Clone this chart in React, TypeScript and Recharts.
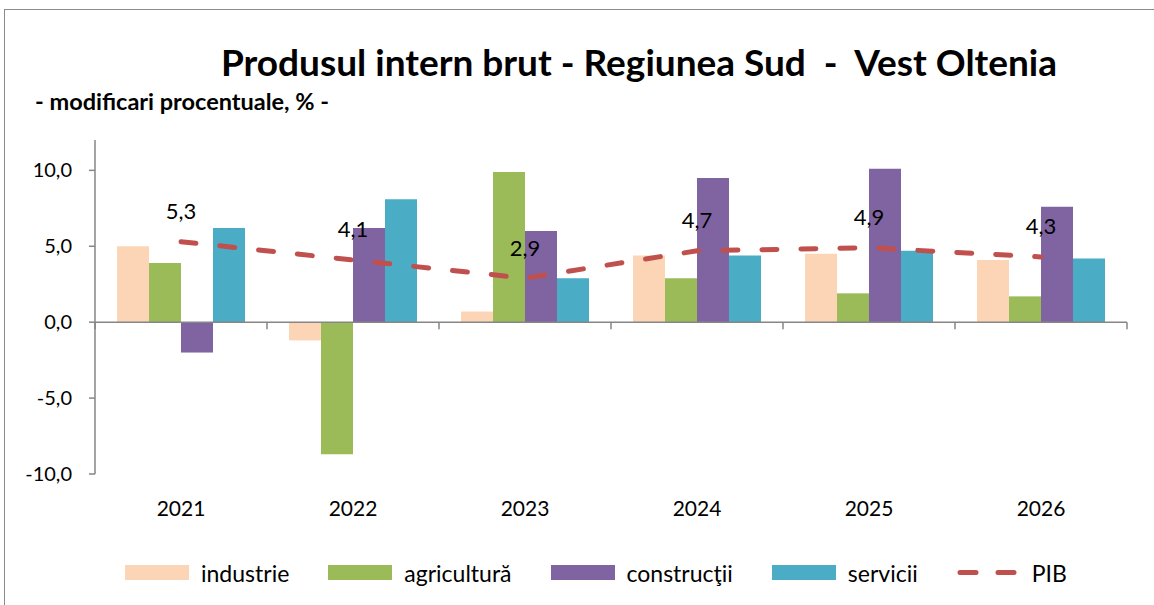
import {
    Bar,
    ComposedChart,
    LabelList,
    Line,
    ReferenceLine,
    XAxis,
    YAxis
} from "recharts";

const years = ["2021", "2022", "2023", "2024", "2025", "2026"];
const industrie = [5.0, -1.2, 0.7, 4.4, 4.5, 4.1];
const agricultura = [3.9, -8.7, 9.9, 2.9, 1.9, 1.7];
const constructii = [-2.0, 6.2, 6.0, 9.5, 10.1, 7.6];
const servicii = [6.2, 8.1, 2.9, 4.4, 4.7, 4.2];
const pib = [5.3, 4.1, 2.9, 4.7, 4.9, 4.3];
const yTicks = [-10, -5, 0, 5, 10];

const FONT = "Lato, 'Open Sans', sans-serif";
const AXIS_GRAY = "#868686";

const colors = {
    industrie: "#FBD5B5",
    agricultura: "#9BBB59",
    constructii: "#8064A2",
    servicii: "#4BACC6",
    pib: "#C0504D"
};

const data = years.map((year, i) => ({
    year,
    industrie: industrie[i],
    agricultura: agricultura[i],
    constructii: constructii[i],
    servicii: servicii[i],
    pib: pib[i]
}));

const formatValue = (v: number) => v.toFixed(1).replace(".", ",");

function ZeroAxis(props: any) {
    const { x1, x2, y1 } = props;
    const step = (x2 - x1) / years.length;
    const ticks = Array.from({ length: years.length + 1 }, (_, i) => x1 + i * step);
    return (
        <g>
            <line x1={x1} y1={y1} x2={x2} y2={y1} stroke={AXIS_GRAY} strokeWidth={1.5} />
            {ticks.map((tx) => (
                <line key={tx} x1={tx} y1={y1} x2={tx} y2={y1 + 7} stroke={AXIS_GRAY} strokeWidth={1.5} />
            ))}
        </g>
    );
}

function YearTick({ x, y, payload }: any) {
    return (
        <text x={x} y={y + 25} textAnchor="middle" dominantBaseline="central" fontSize={21} fill="#000" fontFamily={FONT}>
            {payload.value}
        </text>
    );
}

function PibLabel({ x, y, value }: any) {
    return (
        <text x={x} y={y - 31} textAnchor="middle" dominantBaseline="central" fontSize={22} fill="#000" fontFamily={FONT}>
            {formatValue(value)}
        </text>
    );
}

const legendItems = [
    { name: "industrie", color: colors.industrie },
    { name: "agricultură", color: colors.agricultura },
    { name: "construcţii", color: colors.constructii },
    { name: "servicii", color: colors.servicii }
];

function Legend() {
    return (
        <div
            style={{
                position: "absolute",
                left: 125,
                top: 559,
                display: "flex",
                alignItems: "center",
                fontFamily: FONT,
                fontSize: 23,
                color: "#000",
                height: 27
            }}
        >
            {legendItems.map((item) => (
                <div key={item.name} style={{ display: "flex", alignItems: "center", marginRight: 39 }}>
                    <span style={{ width: 64, height: 15, background: item.color, marginRight: 12 }} />
                    <span>{item.name}</span>
                </div>
            ))}
            <div style={{ display: "flex", alignItems: "center" }}>
                <svg width={64} height={15} style={{ marginRight: 11 }}>
                    <line
                        x1={3}
                        y1={7.5}
                        x2={62}
                        y2={7.5}
                        stroke={colors.pib}
                        strokeWidth={5}
                        strokeLinecap="round"
                        strokeDasharray="16 22"
                    />
                </svg>
                <span>PIB</span>
            </div>
        </div>
    );
}

export default function App() {
    return (
        <div style={{ position: "absolute", left: 0, top: 0, width: 1154, height: 605, background: "#fff", overflow: "hidden" }}>
            <div
                style={{
                    position: "absolute",
                    left: 4,
                    top: 9,
                    width: 1200,
                    height: 700,
                    borderLeft: "1.5px solid #8a8a8a",
                    borderTop: "1.5px solid #8a8a8a"
                }}
            />
            <svg width={1154} height={130} style={{ position: "absolute", left: 0, top: 0 }}>
                <text x={639} y={76} textAnchor="middle" fontSize={37} fontWeight={700} fill="#000" fontFamily={FONT}>
                    Produsul intern brut - Regiunea Sud{"\u00a0\u00a0"}-{"\u00a0\u00a0"}Vest Oltenia
                </text>
                <text x={35} y={110} fontSize={23.5} fontWeight={700} fill="#000" fontFamily={FONT}>
                    - modificari procentuale, % -
                </text>
            </svg>
            <div style={{ position: "absolute", left: 0, top: 0 }}>
                <ComposedChart
                    width={1154}
                    height={605}
                    data={data}
                    margin={{ top: 140, right: 27, bottom: 101, left: 0 }}
                    barCategoryGap={22}
                    barGap={0}
                >
                    <XAxis dataKey="year" axisLine={false} tickLine={false} height={30} tick={<YearTick />} interval={0} />
                    <YAxis
                        width={95}
                        domain={[-10, 12]}
                        ticks={yTicks}
                        allowDataOverflow
                        tickFormatter={formatValue}
                        axisLine={{ stroke: AXIS_GRAY, strokeWidth: 1.5 }}
                        tickLine={{ stroke: AXIS_GRAY, strokeWidth: 1.5 }}
                        tickSize={6}
                        tickMargin={17}
                        tick={{ fontSize: 20, fill: "#000", fontFamily: FONT }}
                    />
                    <Bar dataKey="industrie" fill={colors.industrie} isAnimationActive={false} />
                    <Bar dataKey="agricultura" fill={colors.agricultura} isAnimationActive={false} />
                    <Bar dataKey="constructii" fill={colors.constructii} isAnimationActive={false} />
                    <Bar dataKey="servicii" fill={colors.servicii} isAnimationActive={false} />
                    <ReferenceLine y={0} shape={<ZeroAxis />} />
                    <Line
                        type="linear"
                        dataKey="pib"
                        stroke={colors.pib}
                        strokeWidth={5}
                        strokeLinecap="round"
                        strokeDasharray="15 24"
                        dot={false}
                        activeDot={false}
                        isAnimationActive={false}
                    >
                        <LabelList dataKey="pib" content={<PibLabel />} />
                    </Line>
                </ComposedChart>
            </div>
            <Legend />
        </div>
    );
}
